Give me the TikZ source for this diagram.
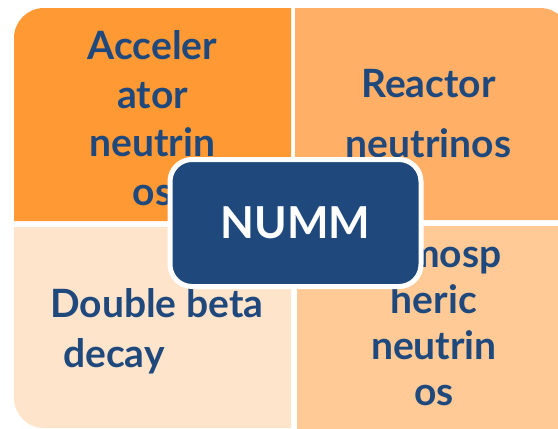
\documentclass[tikz,border=0pt]{standalone}
\usepackage{fontspec}
\setmainfont{Lato}
\usepackage{tikz}
\definecolor{nummblue}{RGB}{31,73,125}
\definecolor{accorange}{RGB}{255,153,51}
\definecolor{reacorange}{RGB}{255,176,102}
\definecolor{betapeach}{RGB}{255,228,204}
\definecolor{atmopeach}{RGB}{255,202,150}
\tikzset{
	quadtext/.style={text=nummblue, font=\bfseries\fontsize{39}{48.5}\selectfont, inner sep=0pt, anchor=base},
	nummbox/.style={draw=white, line width=5pt, fill=nummblue, rounded corners=22pt, text=white,
		font=\bfseries\fontsize{44}{44}\selectfont, minimum width=251pt, minimum height=127pt, inner sep=0pt}
}

\begin{document}
\begin{tikzpicture}[x=1pt,y=-1pt]
		\clip (0,0) rectangle (558,429);
		% Acceleratori
		\fill [accorange] (14,221) -- (14,38) arc (180:270:30) -- (291,8) -- (291,221) -- cycle;
		% Reattori
		\fill [reacorange] (295,220) -- (295,8) -- (540,8) arc (270:360:30) -- (570,220) -- cycle;
		% Doppio beta
		\fill [betapeach] (14,227) -- (14,398) arc (180:90:30) -- (291,428) -- (291,227) -- cycle;
		% Atmosferici
		\fill [atmopeach] (297,226) -- (297,440) -- (542,440) arc (90:0:30) -- (572,226) -- cycle;
		
		% Testi (base = ultima riga)
		\node [quadtext, align=center] (acc) at (152.5,205) {Acceler\\ator\\neutrin\\os};
		\node [quadtext, align=center] (reac) at (428.5,157) {Reactor\\[11.5pt]neutrinos};
		\node [quadtext, align=left, anchor=base west] (beta) at (50,367) {Double beta\\[1.5pt]\hspace{13pt}decay};
		\node [quadtext, align=center, font=\bfseries\fontsize{39}{46}\selectfont] (atmo) at (434,405) {Atmosp\\heric\\neutrin\\os};
		
		% Centro
		\node [nummbox] (numm) at (295.5,223) {NUMM};
	\end{tikzpicture}
\end{document}
